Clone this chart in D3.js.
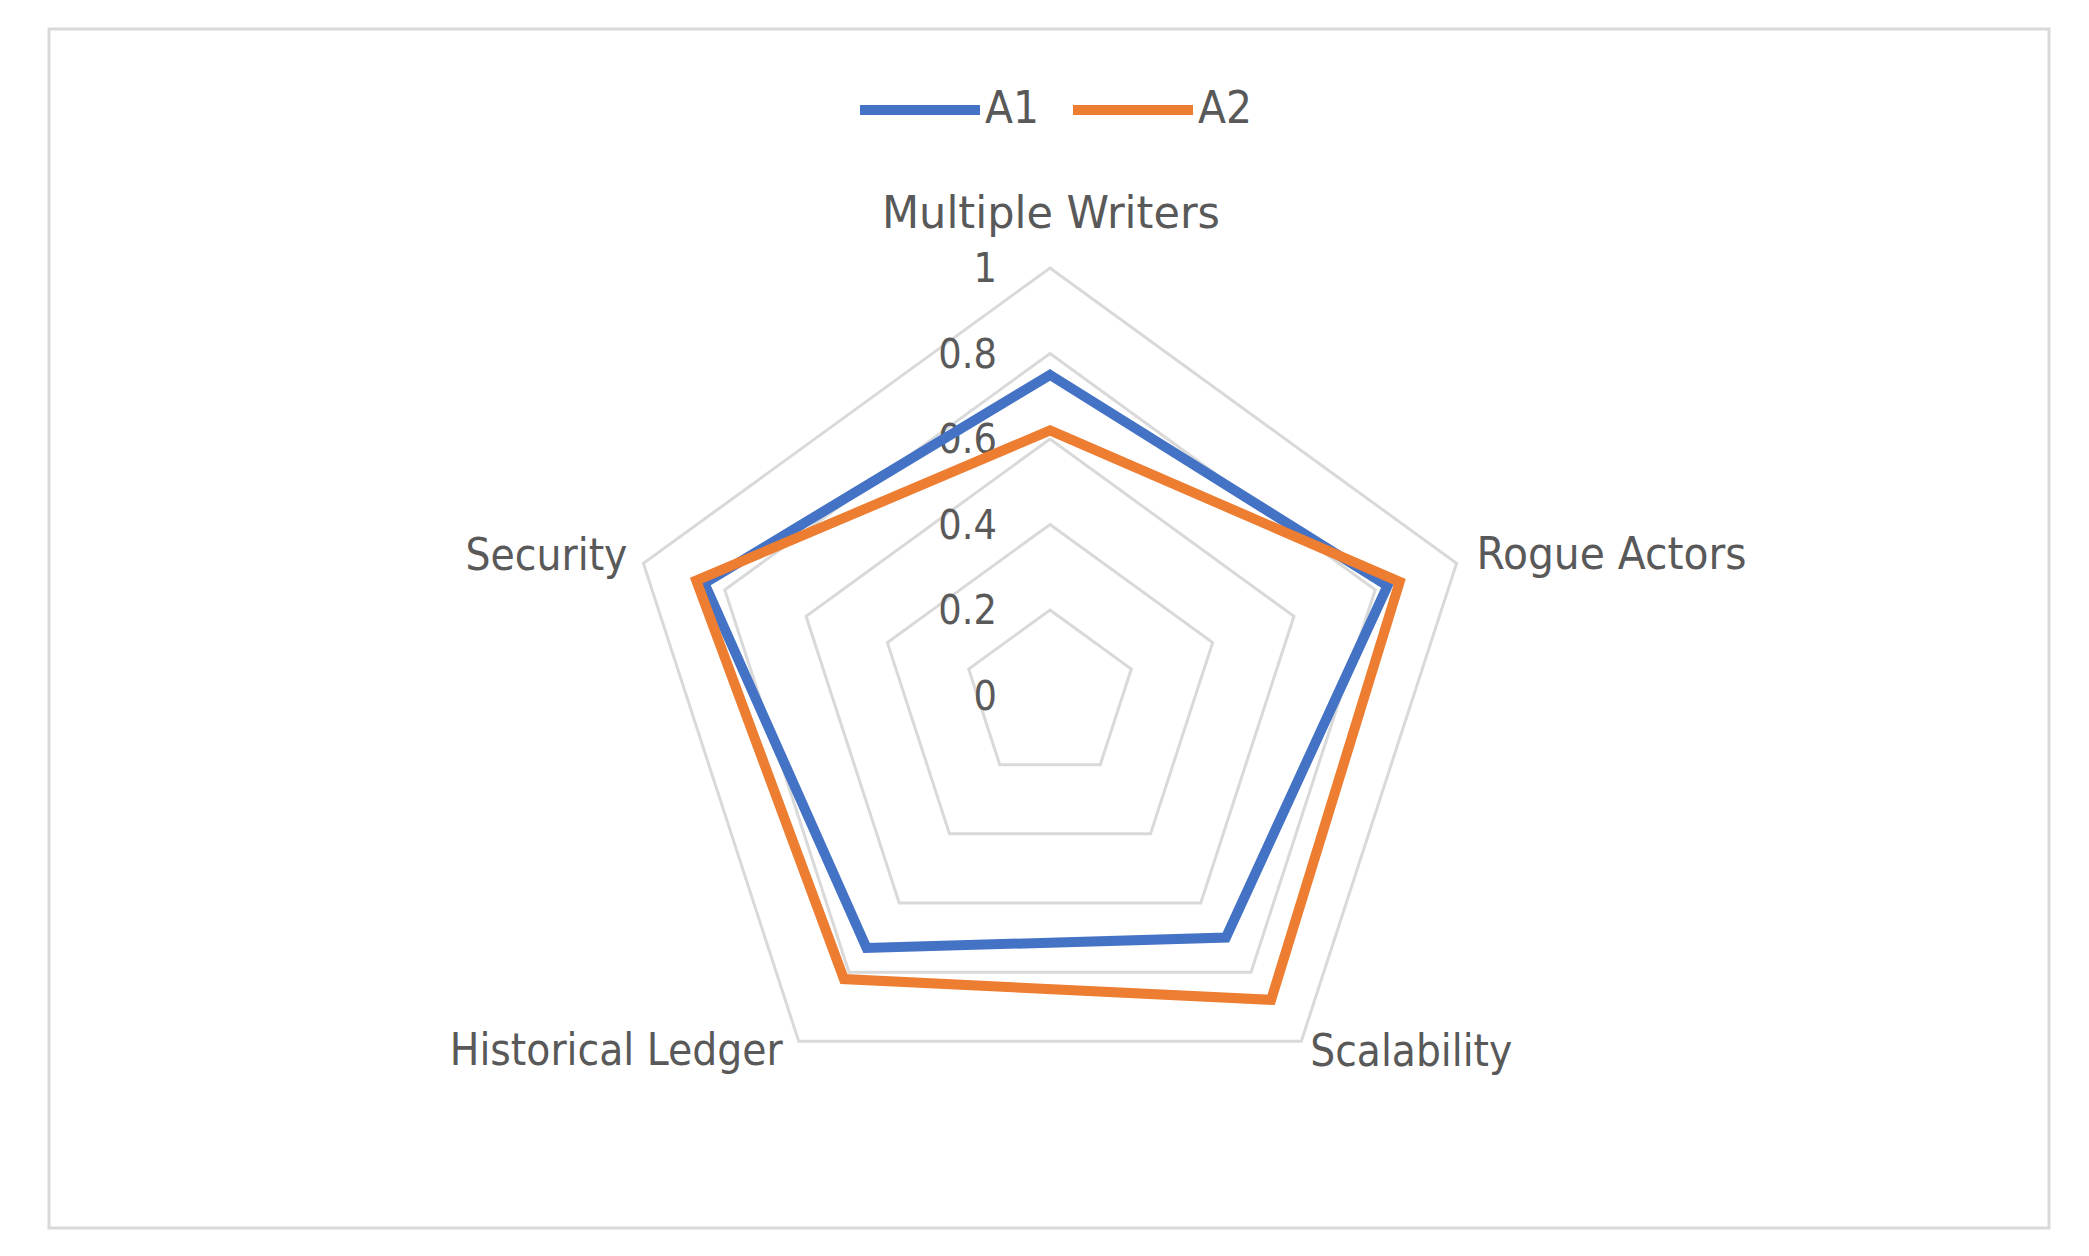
<!DOCTYPE html>
<html>
<head>
<meta charset="utf-8">
<script src="https://cdn.jsdelivr.net/npm/d3@7"></script>
<style>
  html, body { margin: 0; padding: 0; background: #fff; }
  svg { display: block; }
  text { font-family: "Liberation Sans Narrow", "DejaVu Sans Condensed", "Liberation Sans", sans-serif; fill: #595959; }
</style>
</head>
<body>
<svg id="chart" width="2089" height="1256"></svg>
<script>
// ---- data ----
const categories = ["Multiple Writers", "Rogue Actors", "Scalability", "Historical Ledger", "Security"];
const seriesNames = ["A1", "A2"];
const seriesA1 = [0.75, 0.83, 0.70, 0.73, 0.85];
const seriesA2 = [0.62, 0.86, 0.88, 0.82, 0.87];
const tickValues = [0, 0.2, 0.4, 0.6, 0.8, 1];
const tickLabels = ["0", "0.2", "0.4", "0.6", "0.8", "1"];
const colors = ["#4472C4", "#ED7D31"];

// ---- layout ----
const W = 2089, H = 1256;
const cx = 1050, cy = 695.5, R = 427.5;
const svg = d3.select("#chart");

// frame
svg.append("rect")
  .attr("x", 49).attr("y", 29).attr("width", 2000).attr("height", 1199)
  .attr("fill", "#fff").attr("stroke", "#d9d9d9").attr("stroke-width", 3);

const g = svg.append("g").attr("transform", `translate(${cx},${cy})`);

const r = d3.scaleLinear().domain([0, 1]).range([0, R]);
const angle = d3.scalePoint().domain(categories).range([0, 2 * Math.PI * (categories.length - 1) / categories.length]);

const pt = (cat, v) => {
  const a = angle(cat);
  return [Math.sin(a) * r(v), -Math.cos(a) * r(v)];
};

const radial = d3.lineRadial()
  .angle(d => angle(d.cat))
  .radius(d => r(d.v))
  .curve(d3.curveLinearClosed);

// grid pentagons
tickValues.filter(t => t > 0).forEach(t => {
  g.append("path")
    .attr("d", radial(categories.map(c => ({cat: c, v: t}))))
    .attr("fill", "none")
    .attr("stroke", "#d9d9d9")
    .attr("stroke-width", 3);
});

// tick labels
g.selectAll("text.tick")
  .data(tickValues)
  .enter().append("text")
  .attr("class", "tick")
  .attr("x", -53)
  .attr("y", d => -r(d) + 14)
  .attr("text-anchor", "end")
  .attr("font-size", 41)
  .text((d, i) => tickLabels[i]);

// series
[seriesA1, seriesA2].forEach((vals, i) => {
  g.append("path")
    .attr("d", radial(categories.map((c, j) => ({cat: c, v: vals[j]}))))
    .attr("fill", "none")
    .attr("stroke", colors[i])
    .attr("stroke-width", 10)
    .attr("stroke-linejoin", "miter");
});

// category labels
const labelCfg = {
  "Multiple Writers": {anchor: "middle", dx: 1, dy: -40, len: 338},
  "Rogue Actors": {anchor: "start", dx: 20, dy: 6, len: 270},
  "Scalability": {anchor: "start", dx: 9, dy: 25, len: 202},
  "Historical Ledger": {anchor: "end", dx: -16, dy: 24, len: 333},
  "Security": {anchor: "end", dx: -16, dy: 7, len: 162}
};
categories.forEach(c => {
  const [x, y] = pt(c, 1);
  const cfg = labelCfg[c];
  g.append("text")
    .attr("x", x + cfg.dx)
    .attr("y", y + cfg.dy)
    .attr("text-anchor", cfg.anchor)
    .attr("font-size", 45)
    .attr("textLength", cfg.len)
    .attr("lengthAdjust", "spacingAndGlyphs")
    .text(c);
});

// legend
const legendX = [860, 1073];
seriesNames.forEach((name, i) => {
  const lg = svg.append("g").attr("transform", `translate(${legendX[i]},110)`);
  lg.append("line").attr("x1", 0).attr("x2", 120).attr("y1", 0).attr("y2", 0)
    .attr("stroke", colors[i]).attr("stroke-width", 10);
  lg.append("text").attr("x", 125).attr("y", 13).attr("font-size", 44)
    .attr("textLength", 54).attr("lengthAdjust", "spacingAndGlyphs")
    .text(name);
});
</script>
</body>
</html>
